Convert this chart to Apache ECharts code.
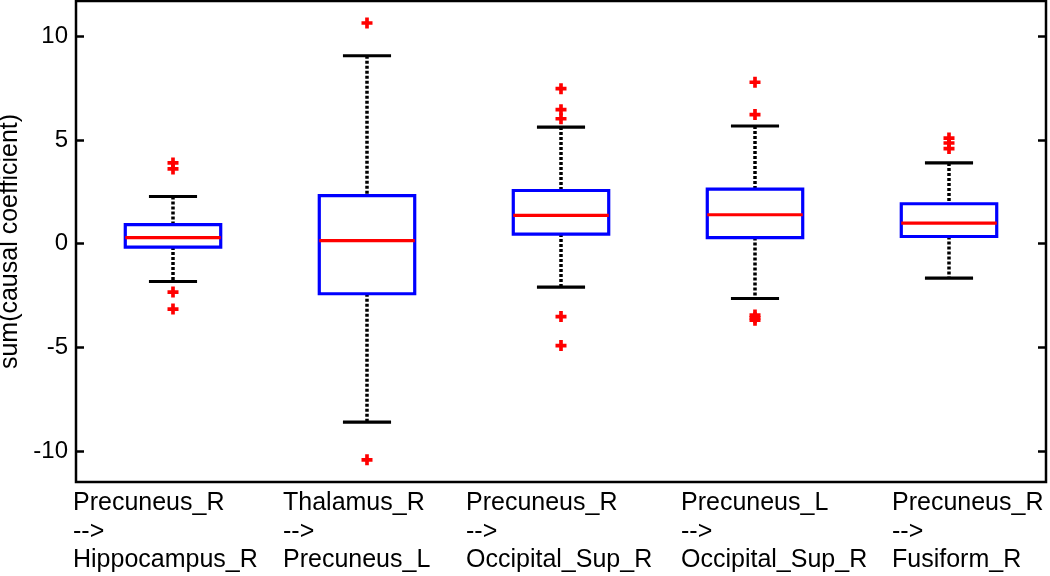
<!DOCTYPE html>
<html><head><meta charset="utf-8">
<script src="https://cdn.jsdelivr.net/npm/echarts@6/dist/echarts.min.js"></script>
<style>html,body{margin:0;padding:0;background:#fff}#c{width:1050px;height:576px}</style>
</head><body><div id="c"></div>
<script>
const categories = [
  'Precuneus_R\n-->\nHippocampus_R',
  'Thalamus_R\n-->\nPrecuneus_L',
  'Precuneus_R\n-->\nOccipital_Sup_R',
  'Precuneus_L\n-->\nOccipital_Sup_R',
  'Precuneus_R\n-->\nFusiform_R'
];
const lowWhisker  = [-1.83, -8.61, -2.10, -2.65, -1.67];
const q1          = [-0.17, -2.42,  0.46,  0.29,  0.34];
const median      = [ 0.29,  0.14,  1.36,  1.39,  0.99];
const q3          = [ 0.91,  2.31,  2.56,  2.63,  1.92];
const highWhisker = [ 2.27,  9.06,  5.62,  5.67,  3.89];
const outliers = [
  [0, 3.89], [0, 3.60], [0, -2.34], [0, -3.16],
  [1, 10.64], [1, -10.43],
  [2, 7.47], [2, 6.46], [2, 6.02], [2, -3.52], [2, -4.92],
  [3, 7.78], [3, 6.22], [3, -3.45], [3, -3.58], [3, -3.70],
  [4, 5.09], [4, 4.85], [4, 4.58]
];
const yTicks = [-10, -5, 0, 5, 10];
const yTitle = 'sum(causal coefficient)';

const FONT = '"Liberation Sans", Arial, sans-serif';
const labelWidths = [200, 168, 190, 148, 114];
const rich = {};
labelWidths.forEach((w, i) => {
  rich['c' + i] = { width: w, align: 'left', fontSize: 25, lineHeight: 28.5, fontFamily: FONT, color: '#000' };
});

const boxData = categories.map((c, i) => [i, lowWhisker[i], q1[i], median[i], q3[i], highWhisker[i]]);

function renderBox(params, api) {
  const i = api.value(0);
  const x = api.coord([i, 0])[0];
  const band = api.size([1, 0])[0];
  const yL = api.coord([i, api.value(1)])[1];
  const yQ1 = api.coord([i, api.value(2)])[1];
  const yM = api.coord([i, api.value(3)])[1];
  const yQ3 = api.coord([i, api.value(4)])[1];
  const yH = api.coord([i, api.value(5)])[1];
  const bh = band * 0.246;
  const ch = band * 0.124;
  const dash = { stroke: '#000', lineWidth: 3.5, lineDash: [3, 2] };
  const solid = { stroke: '#000', lineWidth: 3.2 };
  return {
    type: 'group',
    children: [
      { type: 'line', shape: { x1: x, y1: yH, x2: x, y2: yQ3 }, style: dash },
      { type: 'line', shape: { x1: x, y1: yQ1, x2: x, y2: yL }, style: dash },
      { type: 'line', shape: { x1: x - ch, y1: yH, x2: x + ch, y2: yH }, style: solid },
      { type: 'line', shape: { x1: x - ch, y1: yL, x2: x + ch, y2: yL }, style: solid },
      { type: 'rect', shape: { x: x - bh, y: yQ3, width: 2 * bh, height: yQ1 - yQ3 },
        style: { fill: '#fff', stroke: '#0000ff', lineWidth: 3.2 } },
      { type: 'line', shape: { x1: x - bh, y1: yM, x2: x + bh, y2: yM },
        style: { stroke: '#ff0000', lineWidth: 3.2 } }
    ]
  };
}

const yCommon = {
  type: 'value', min: -11.5, max: 11.7,
  axisLine: { show: false },
  splitLine: { show: false },
  axisTick: { show: true, inside: true, length: 8, customValues: yTicks, lineStyle: { color: '#000', width: 2.5 } }
};

const chart = echarts.init(document.getElementById('c'), null, { renderer: 'canvas' });
chart.setOption({
  animation: false,
  backgroundColor: '#fff',
  grid: { left: 76, right: 4, top: 1, bottom: 94, outerBoundsMode: 'none', containLabel: false,
          show: true, borderColor: '#000', borderWidth: 2.5, backgroundColor: 'transparent' },
  xAxis: {
    type: 'category', data: categories, boundaryGap: true,
    axisLine: { show: false }, axisTick: { show: false }, splitLine: { show: false },
    axisLabel: {
      interval: 0, margin: 7, align: 'center',
      formatter: (v, idx) => v.split('\n').map(l => '{c' + idx + '|' + l + '}').join('\n'),
      rich: rich
    }
  },
  yAxis: [
    Object.assign({}, yCommon, {
      position: 'left',
      name: yTitle, nameLocation: 'middle', nameGap: 47,
      nameTextStyle: { fontSize: 25, fontFamily: FONT, color: '#000' },
      axisLabel: { customValues: yTicks, fontSize: 24, fontFamily: FONT, color: '#000', margin: 8 }
    }),
    Object.assign({}, yCommon, {
      position: 'right',
      axisLabel: { show: false, customValues: yTicks }
    })
  ],
  series: [
    {
      type: 'custom', renderItem: renderBox, data: boxData,
      encode: { x: 0, y: [1, 2, 3, 4, 5] }, z: 2
    },
    {
      type: 'scatter', data: outliers, z: 3,
      symbol: 'path://M4,0H8V4H12V8H8V12H4V8H0V4H4Z', symbolSize: 11,
      itemStyle: { color: '#ff0000', opacity: 1 }
    }
  ]
});
</script></body></html>
